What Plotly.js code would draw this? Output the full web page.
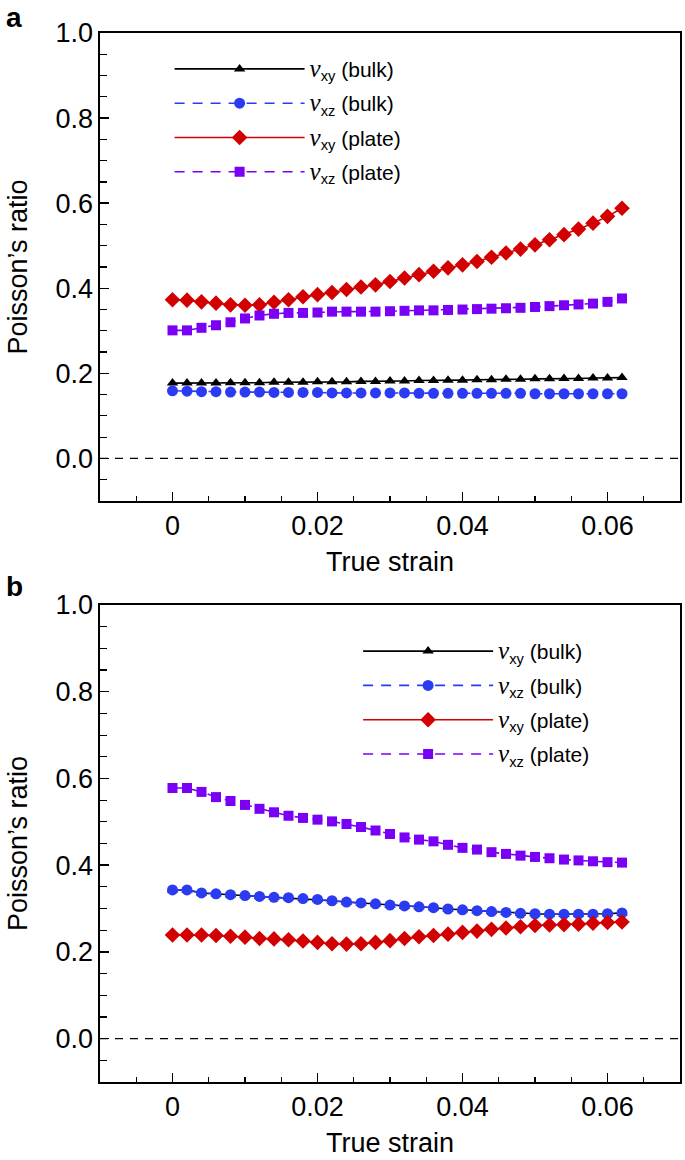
<!DOCTYPE html>
<html>
<head>
<meta charset="utf-8">
<script src="https://cdn.plot.ly/plotly-3.0.1.min.js"></script>
<style>
  html, body { margin: 0; padding: 0; background: #fff; }
  #chart { width: 685px; height: 1160px; }
</style>
</head>
<body>
<div id="chart"></div>
<script>
// ---------------- data ----------------
const strain = [0, 0.002, 0.004, 0.006, 0.008, 0.010, 0.012, 0.014, 0.016, 0.018,
                0.020, 0.022, 0.024, 0.026, 0.028, 0.030, 0.032, 0.034, 0.036, 0.038,
                0.040, 0.042, 0.044, 0.046, 0.048, 0.050, 0.052, 0.054, 0.056, 0.058,
                0.060, 0.062];

// panel a
const aXyBulk = [0.177, 0.177, 0.177, 0.177, 0.178, 0.178, 0.178, 0.179, 0.179, 0.179,
                 0.180, 0.180, 0.180, 0.181, 0.181, 0.182, 0.182, 0.183, 0.183, 0.184,
                 0.184, 0.185, 0.185, 0.186, 0.186, 0.187, 0.187, 0.188, 0.188, 0.189,
                 0.189, 0.190];
const aXzBulk = [0.159, 0.158, 0.157, 0.157, 0.156, 0.156, 0.156, 0.155, 0.155, 0.155,
                 0.155, 0.154, 0.154, 0.154, 0.154, 0.154, 0.154, 0.153, 0.153, 0.153,
                 0.153, 0.153, 0.153, 0.153, 0.153, 0.152, 0.152, 0.152, 0.152, 0.152,
                 0.152, 0.152];
const aXyPlate = [0.373, 0.372, 0.368, 0.365, 0.361, 0.360, 0.361, 0.367, 0.373, 0.380,
                  0.385, 0.390, 0.397, 0.403, 0.408, 0.416, 0.424, 0.432, 0.440, 0.448,
                  0.455, 0.463, 0.473, 0.483, 0.492, 0.502, 0.514, 0.526, 0.539, 0.553,
                  0.569, 0.588];
const aXzPlate = [0.301, 0.301, 0.307, 0.313, 0.320, 0.329, 0.336, 0.340, 0.342, 0.342,
                  0.343, 0.345, 0.345, 0.345, 0.345, 0.346, 0.347, 0.348, 0.348, 0.349,
                  0.350, 0.351, 0.352, 0.353, 0.354, 0.356, 0.358, 0.360, 0.362, 0.364,
                  0.368, 0.376];

// panel b
const bXyBulk = [0.343, 0.343, 0.336, 0.334, 0.332, 0.330, 0.328, 0.326, 0.325, 0.323,
                 0.321, 0.318, 0.315, 0.313, 0.311, 0.308, 0.306, 0.304, 0.302, 0.299,
                 0.297, 0.295, 0.293, 0.291, 0.289, 0.288, 0.287, 0.287, 0.287, 0.287,
                 0.288, 0.290];
const bXzBulk = [0.343, 0.343, 0.336, 0.334, 0.332, 0.330, 0.328, 0.326, 0.325, 0.323,
                 0.321, 0.318, 0.315, 0.313, 0.311, 0.308, 0.306, 0.304, 0.302, 0.299,
                 0.297, 0.295, 0.293, 0.291, 0.289, 0.288, 0.287, 0.287, 0.287, 0.287,
                 0.288, 0.290];
const bXyPlate = [0.239, 0.239, 0.239, 0.238, 0.236, 0.234, 0.231, 0.230, 0.228, 0.225,
                  0.222, 0.219, 0.218, 0.219, 0.222, 0.226, 0.231, 0.235, 0.238, 0.241,
                  0.245, 0.248, 0.252, 0.255, 0.258, 0.261, 0.262, 0.263, 0.264, 0.266,
                  0.268, 0.269];
const bXzPlate = [0.578, 0.578, 0.569, 0.557, 0.548, 0.539, 0.530, 0.522, 0.514, 0.509,
                  0.505, 0.501, 0.495, 0.488, 0.480, 0.472, 0.464, 0.459, 0.455, 0.447,
                  0.440, 0.436, 0.430, 0.426, 0.422, 0.419, 0.416, 0.413, 0.411, 0.409,
                  0.407, 0.406];

const xTickVals = [0, 0.02, 0.04, 0.06];
const xTickText = ['0', '0.02', '0.04', '0.06'];
const yTickVals = [0, 0.2, 0.4, 0.6, 0.8, 1.0];
const yTickText = ['0.0', '0.2', '0.4', '0.6', '0.8', '1.0'];

const seriesNames = [
  '<span style="font-family:\'Liberation Serif\';font-size:25px"><i>v</i></span><sub>xy</sub> (bulk)',
  '<span style="font-family:\'Liberation Serif\';font-size:25px"><i>v</i></span><sub>xz</sub> (bulk)',
  '<span style="font-family:\'Liberation Serif\';font-size:25px"><i>v</i></span><sub>xy</sub> (plate)',
  '<span style="font-family:\'Liberation Serif\';font-size:25px"><i>v</i></span><sub>xz</sub> (plate)'
];

// ---------------- styles ----------------
const FONT = 'Liberation Sans, Arial, sans-serif';
const styles = [
  {color: '#000000', dash: 'solid', symbol: 'triangle-up', size: 10},
  {color: '#2b3bf2', dash: '10px,8px', symbol: 'circle', size: 11},
  {color: '#d20000', dash: 'solid', symbol: 'diamond', size: 12},
  {color: '#7a00f5', dash: '10px,8px', symbol: 'square', size: 10}
];

function makeTrace(yvals, i, xa, ya, legendId) {
  const s = styles[i];
  return {
    x: strain, y: yvals, type: 'scatter', mode: 'lines+markers',
    name: seriesNames[i], xaxis: xa, yaxis: ya, legend: legendId,
    legendgroup: legendId + '_' + i,
    line: {color: s.color, width: 1.6, dash: s.dash},
    marker: {color: s.color, symbol: s.symbol, size: s.size, line: {width: 0}},
    hoverinfo: 'skip'
  };
}

const data = [
  makeTrace(aXyBulk, 0, 'x', 'y', 'legend'),
  makeTrace(aXzBulk, 1, 'x', 'y', 'legend'),
  makeTrace(aXyPlate, 2, 'x', 'y', 'legend'),
  makeTrace(aXzPlate, 3, 'x', 'y', 'legend'),
  makeTrace(bXyBulk, 0, 'x2', 'y2', 'legend2'),
  makeTrace(bXzBulk, 1, 'x2', 'y2', 'legend2'),
  makeTrace(bXyPlate, 2, 'x2', 'y2', 'legend2'),
  makeTrace(bXzPlate, 3, 'x2', 'y2', 'legend2')
];

function xAxis(anchor) {
  return {
    anchor: anchor, domain: [0, 1], range: [-0.01, 0.07],
    tickmode: 'array', tickvals: xTickVals, ticktext: xTickText,
    ticks: 'inside', ticklen: 9, tickwidth: 1.4, tickcolor: '#000',
    minor: {tickmode: 'linear', tick0: 0, dtick: 0.005, ticks: 'inside', ticklen: 5, tickwidth: 1.2, tickcolor: '#000', showgrid: false},
    showline: true, mirror: true, linecolor: '#000', linewidth: 1.6,
    showgrid: false, zeroline: false,
    tickfont: {family: FONT, size: 27, color: '#000'},
    title: {text: 'True strain', font: {family: FONT, size: 27, color: '#000'}, standoff: 12}
  };
}
function yAxis(anchor, domain) {
  return {
    anchor: anchor, domain: domain, range: [-0.1, 1.0],
    tickmode: 'array', tickvals: yTickVals, ticktext: yTickText,
    ticks: 'inside', ticklen: 9, tickwidth: 1.4, tickcolor: '#000',
    minor: {tickmode: 'linear', tick0: 0, dtick: 0.05, ticks: 'inside', ticklen: 7, tickwidth: 1.2, tickcolor: '#000', showgrid: false},
    showline: true, mirror: true, linecolor: '#000', linewidth: 1.6,
    showgrid: false, zeroline: false,
    tickfont: {family: FONT, size: 27, color: '#000'},
    title: {text: 'Poisson\u2019s ratio', font: {family: FONT, size: 27, color: '#000'}, standoff: 20}
  };
}

const legendBase = {
  bgcolor: 'rgba(0,0,0,0)', borderwidth: 0,
  font: {family: FONT, size: 21, color: '#000'},
  itemwidth: 130, tracegroupgap: 4,
  xanchor: 'left', yanchor: 'top', itemclick: false, itemdoubleclick: false
};

const layout = {
  width: 685, height: 1160,
  margin: {l: 100, r: 5, t: 33, b: 78},
  paper_bgcolor: '#fff', plot_bgcolor: '#fff',
  font: {family: FONT, color: '#000'},
  showlegend: true,
  xaxis: xAxis('y'),
  yaxis: yAxis('x', [0.5539, 1]),
  xaxis2: xAxis('y2'),
  yaxis2: yAxis('x2', [0, 0.4547]),
  legend: Object.assign({}, legendBase, {x: 0.12, y: 0.985}),
  legend2: Object.assign({}, legendBase, {x: 0.445, y: 0.43}),
  shapes: [
    {type: 'line', xref: 'x', yref: 'y', x0: -0.01, x1: 0.07, y0: 0, y1: 0,
     line: {color: '#000', width: 1.2, dash: '8px,7px'}},
    {type: 'line', xref: 'x2', yref: 'y2', x0: -0.01, x1: 0.07, y0: 0, y1: 0,
     line: {color: '#000', width: 1.2, dash: '8px,7px'}}
  ],
  annotations: [
    {text: '<b>a</b>', xref: 'paper', yref: 'paper', x: -0.165, y: 1.015, xanchor: 'left', yanchor: 'middle',
     showarrow: false, font: {family: FONT, size: 28, color: '#000'}},
    {text: '<b>b</b>', xref: 'paper', yref: 'paper', x: -0.165, y: 0.472, xanchor: 'left', yanchor: 'middle',
     showarrow: false, font: {family: FONT, size: 28, color: '#000'}}
  ]
};

Plotly.newPlot('chart', data, layout, {staticPlot: true, displayModeBar: false}).then(function (gd) {
  // stretch the legend samples so the line runs long with the marker in its middle
  gd.querySelectorAll('.legendlines path').forEach(function (p) { p.setAttribute('d', 'M5,0h130'); });
  gd.querySelectorAll('.legendpoints path').forEach(function (p) { p.setAttribute('transform', 'translate(70,0)'); });
});
</script>
</body>
</html>
